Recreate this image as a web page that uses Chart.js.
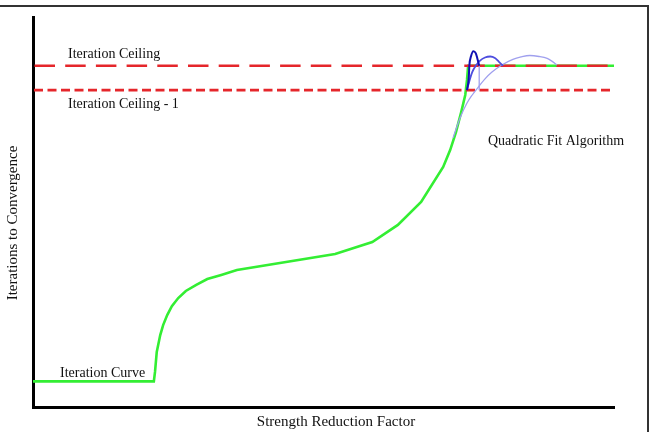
<!DOCTYPE html>
<html>
<head>
<meta charset="utf-8">
<script src="https://cdn.jsdelivr.net/npm/chart.js@4.4.0/dist/chart.umd.min.js"></script>
<style>
html, body { margin: 0; padding: 0; background: #fff; overflow: hidden; }
#wrap { position: relative; width: 653px; height: 432px; }
#frame { position: absolute; left: -4px; top: 5px; width: 653px; height: 440px; box-sizing: border-box;
  border-top: 2px solid #333; border-right: 2px solid #333; pointer-events: none; }
</style>
</head>
<body>
<div id="wrap"><canvas id="srfChart"></canvas><div id="frame"></div></div>
<script>
// values (x = relative strength reduction factor, y = iterations)
const ceiling = 14;
const ceilingMinus1 = 13;
const xRange = [0, 100];

const curveX = [0, 20.8, 21.0, 21.3, 21.9, 22.4, 23.1, 23.9, 25.0, 26.3, 28.1, 30.0, 32.4, 35.1, 52.0, 58.4, 62.8, 66.8, 70.6, 71.8, 72.8, 73.7, 74.4, 74.7, 74.9, 100];
const curveY = [1.05, 1.05, 1.44, 2.26, 2.95, 3.36, 3.77, 4.14, 4.47, 4.76, 5.01, 5.25, 5.42, 5.62, 6.28, 6.77, 7.47, 8.41, 9.85, 10.54, 11.28, 12.10, 12.80, 13.42, 14, 14];

// quadratic fits
const fit1X = [74.7, 75.0, 75.1, 75.4, 75.8, 76.2, 76.5, 76.8];
const fit1Y = [13.0, 13.5, 14.0, 14.4, 14.6, 14.52, 14.28, 14.0];
const fit2X = [74.7, 75.2, 75.6, 76.3, 76.9, 77.8, 78.7, 79.5, 80.2, 80.9];
const fit2Y = [13.0, 13.45, 13.74, 14.03, 14.2, 14.34, 14.38, 14.32, 14.16, 14.0];
const fit3X = [72.3, 73.5, 74.7, 75.6, 76.8, 77.8, 79.0, 80.7, 82.6, 84.0, 85.5, 87.1, 88.5, 89.3, 90.2];
const fit3Y = [11.04, 11.86, 12.47, 12.80, 13.17, 13.46, 13.74, 14.03, 14.26, 14.36, 14.42, 14.38, 14.30, 14.19, 14.03];
const dropX = [76.8, 76.8];
const dropY = [14.0, 13.0];

const pts = (xs, ys) => xs.map((x, i) => ({ x: x, y: ys[i] }));

const labelPlugin = {
  id: 'labels',
  afterDraw(chart) {
    const ctx = chart.ctx;
    ctx.save();
    ctx.fillStyle = '#111';
    ctx.textBaseline = 'alphabetic';
    ctx.font = '14px "Liberation Serif"';
    ctx.fillText('Iteration Ceiling', 68, 58);
    ctx.fillText('Iteration Ceiling - 1', 68, 108);
    ctx.fillText('Quadratic Fit Algorithm', 488, 145);
    ctx.fillText('Iteration Curve', 60, 377);
    ctx.font = '15px "Liberation Serif"';
    ctx.textAlign = 'center';
    ctx.fillText('Strength Reduction Factor', 336, 426);
    ctx.translate(17, 223);
    ctx.rotate(-Math.PI / 2);
    ctx.fillText('Iterations to Convergence', 0, 0);
    ctx.restore();
  }
};

const axis = (min, max) => ({
  type: 'linear', min: min, max: max,
  grid: { display: false, drawTicks: false },
  ticks: { display: false },
  border: { display: true, color: '#000', width: 3 }
});

const ctx = document.getElementById('srfChart').getContext('2d');
const srfChart = new Chart(ctx, {
  type: 'scatter',
  data: {
    datasets: [
      { data: pts(fit1X, fit1Y), borderColor: '#1010b4', borderWidth: 2, cubicInterpolationMode: 'monotone', order: 1 },
      { data: pts(fit2X, fit2Y), borderColor: '#4e4ede', borderWidth: 1.8, cubicInterpolationMode: 'monotone', order: 2 },
      { data: pts(fit3X, fit3Y), borderColor: '#a0a0ee', borderWidth: 1.3, cubicInterpolationMode: 'monotone', order: 3 },
      { data: pts(dropX, dropY), borderColor: '#a0a0ee', borderWidth: 1.3, order: 4 },
      { data: pts(xRange, [ceiling, ceiling]), borderColor: '#e5262b', borderWidth: 2.6,
        borderDash: [20.5, 10.2], borderDashOffset: 29.2, order: 5 },
      { data: pts(xRange, [ceilingMinus1, ceilingMinus1]), borderColor: '#e5262b', borderWidth: 2.6,
        borderDash: [9, 4.5], borderDashOffset: 12.5, order: 6 },
      { data: pts(curveX, curveY), borderColor: '#33ee33', borderWidth: 2.6, order: 7 }
    ]
  },
  options: {
    responsive: true,
    maintainAspectRatio: false,
    animation: false,
    showLine: true,
    elements: { point: { radius: 0 }, line: { tension: 0 } },
    layout: { padding: { left: 33, top: 17, right: 39, bottom: 25 } },
    plugins: { legend: { display: false }, tooltip: { enabled: false } },
    scales: {
      x: axis(xRange[0], xRange[1]),
      y: axis(0, 16)
    }
  },
  plugins: [labelPlugin]
});
</script>
</body>
</html>
